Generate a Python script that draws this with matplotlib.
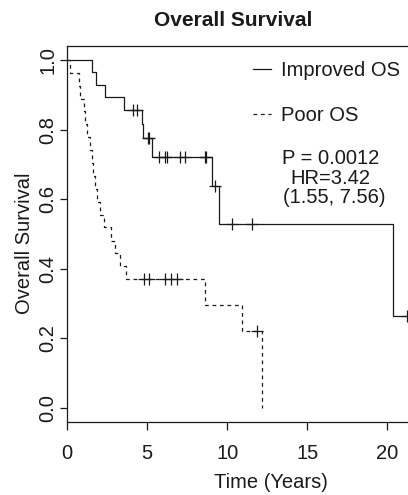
import numpy as np
import matplotlib
matplotlib.use("Agg")
import matplotlib.pyplot as plt

plt.rcParams['font.family'] = ['Liberation Sans', 'DejaVu Sans']

# Improved OS (solid)
t_improved = [0, 1.52, 1.79, 2.38, 3.52, 4.65, 4.75, 5.29, 9.02, 9.46, 20.33, 21.4]
s_improved = [1.0, 0.964, 0.929, 0.893, 0.857, 0.816, 0.775, 0.722, 0.637, 0.530, 0.265, 0.265]
c_improved = [4.13, 4.33, 5.02, 5.10, 5.75, 6.12, 6.21, 7.06, 7.37, 8.58, 8.65, 9.25, 10.27, 11.56, 21.2]

# Poor OS (dashed)
t_poor = [0, 0.17, 0.75, 0.81, 1.02, 1.13, 1.23, 1.40, 1.52, 1.62, 1.75, 1.84,
          2.04, 2.31, 2.73, 2.98, 3.29, 3.65, 8.6, 10.9, 12.15]
s_poor = [1.0, 0.963, 0.926, 0.889, 0.852, 0.815, 0.778, 0.741, 0.704, 0.667, 0.630, 0.593,
          0.556, 0.519, 0.481, 0.444, 0.407, 0.370, 0.296, 0.222, 0.0]
c_poor = [4.82, 5.13, 6.11, 6.48, 6.84, 11.84]

xticks = [0, 5, 10, 15, 20]
yticks = [0.0, 0.2, 0.4, 0.6, 0.8, 1.0]


def surv_at(t, times, surv):
    i = np.searchsorted(times, t, side='right') - 1
    return surv[i]


W, H = 408, 495
fig = plt.figure(figsize=(W / 100, H / 100), dpi=100)
ax = fig.add_axes([67.3 / W, 73 / H, 360 / W, 376 / H])

col = '#1a1a1a'
ax.step(t_improved, s_improved, where='post', color=col, lw=0.9, label='Improved OS')
ax.step(t_poor, s_poor, where='post', color=col, lw=0.9, linestyle=(0, (3, 3)), label='Poor OS')

ci = [surv_at(t, t_improved, s_improved) for t in c_improved]
cp = [surv_at(t, t_poor, s_poor) for t in c_poor]
ax.plot(c_improved, ci, '+', color=col, ms=9, mew=0.9)
ax.plot(c_poor, cp, '+', color=col, ms=9, mew=0.9)

ax.set_xlim(0, 22.5)
ax.set_ylim(-0.04, 1.04)
ax.set_xticks(xticks)
ax.set_xticklabels([str(x) for x in xticks], fontsize=14.5)
ax.set_yticks(yticks)
ax.set_yticklabels([f"{y:.1f}" for y in yticks], fontsize=14.5, rotation=90, va='center')
ax.tick_params(axis='x', length=6, width=0.9, pad=10, colors=col)
ax.tick_params(axis='y', length=5, width=0.9, pad=2, colors=col)
for sp in ax.spines.values():
    sp.set_linewidth(0.9)
    sp.set_color(col)

leg = ax.legend(loc='upper left', bbox_to_anchor=(253 / W, (H - 61) / H),
                bbox_transform=fig.transFigure, frameon=False, fontsize=14.5,
                handlelength=0.9, handletextpad=0.5, labelspacing=1.3, borderaxespad=0,
                borderpad=0)
for txt in leg.get_texts():
    txt.set_color(col)

ax.text(16.47, 0.700, 'P = 0.0012', ha='center', va='baseline', fontsize=14.5, color=col)
ax.text(16.47, 0.643, 'HR=3.42', ha='center', va='baseline', fontsize=14.5, color=col)
ax.text(16.70, 0.590, '(1.55, 7.56)', ha='center', va='baseline', fontsize=14.5, color=col)

fig.text(233 / W, (H - 26) / H, 'Overall Survival', ha='center', va='baseline',
         fontsize=15, fontweight='bold', color=col)
fig.text(271 / W, (H - 488) / H, 'Time (Years)', ha='center', va='baseline',
         fontsize=14.5, color=col)
fig.text(25 / W, (H - 243) / H, 'Overall Survival', ha='center', va='center',
         rotation=90, fontsize=14.5, color=col)

fig.savefig('out.png', dpi=100)
